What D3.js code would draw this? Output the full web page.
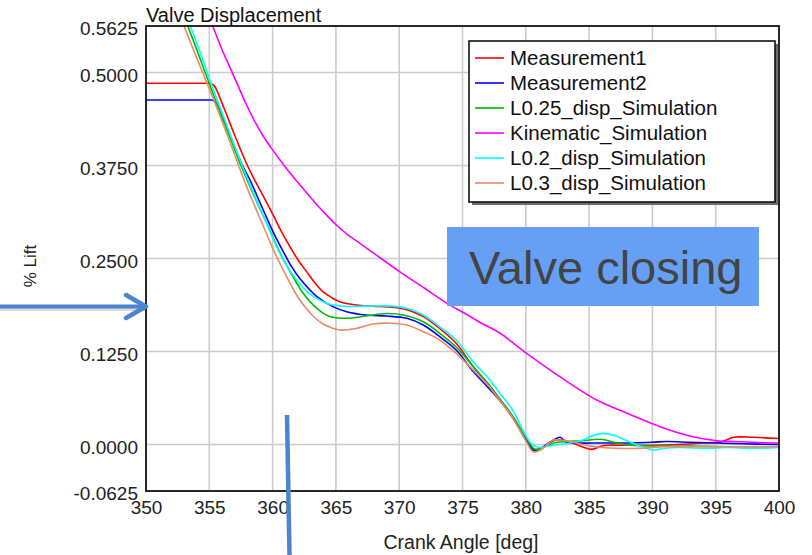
<!DOCTYPE html>
<html>
<head>
<meta charset="utf-8">
<script src="https://cdn.jsdelivr.net/npm/d3@7"></script>
<style>
  html, body { margin: 0; padding: 0; background: #ffffff; }
  svg { display: block; }
  text { font-family: "Liberation Sans", Arial, sans-serif; }
</style>
</head>
<body>
<svg id="chart" width="812" height="555"></svg>
<script>
// ---------- data (crank angle [deg], lift) ----------
const xTicks = [350, 355, 360, 365, 370, 375, 380, 385, 390, 395, 400];
const yTicks = [0.5625, 0.5, 0.375, 0.25, 0.125, 0.0, -0.0625];
const yTickLabels = ["0.5625", "0.5000", "0.3750", "0.2500", "0.1250", "0.0000", "-0.0625"];

const measurement1 = [[350,0.4855],[352,0.4855],[354,0.4855],[354.8,0.4855],[355.1,0.4853],[355.4,0.482],[355.7,0.472],[356.2,0.4505],[357.0,0.416],[357.9,0.379],[358.5,0.358],[359.2,0.336],[360.06,0.308],[360.7,0.286],[361.4,0.265],[362.05,0.247],[362.7,0.232],[363.4,0.216],[364.0,0.205],[364.7,0.197],[365.3,0.192],[366.6,0.1875],[367.95,0.186],[369.5,0.1844],[370.6,0.181],[371.9,0.172],[373.2,0.156],[374.5,0.136],[375.85,0.1046],[377.0,0.082],[378.0,0.06],[379.0,0.037],[380.0,0.008],[380.6,-0.008],[381.2,-0.006],[381.8,0.002],[382.4,0.006],[383.2,0.005],[384.0,0.0],[384.6,-0.004],[385.2,-0.0065],[386.0,-0.002],[386.5,-0.001],[388,-0.001],[390,-0.001],[392,0.0],[394,0.002],[395.5,0.004],[396.4,0.0097],[398,0.0097],[400,0.008]];

const measurement2 = [[350,0.463],[352,0.463],[354,0.463],[355.0,0.463],[355.3,0.4628],[355.6,0.458],[356.0,0.443],[356.8,0.408],[357.6,0.376],[358.2,0.356],[358.7,0.337],[359.5,0.306],[360.2,0.280],[360.85,0.259],[361.5,0.239],[362.2,0.222],[363.5,0.1987],[364.8,0.185],[365.85,0.1785],[367.4,0.174],[369.0,0.1727],[370.6,0.1696],[371.9,0.1606],[373.2,0.145],[374.5,0.127],[375.85,0.098],[377,0.077],[378,0.058],[379,0.035],[380.0,0.007],[380.7,-0.008],[381.3,-0.004],[382.0,0.004],[382.7,0.0097],[383.2,0.003],[384,0.002],[386,0.002],[388,0.002],[390,0.003],[391.1,0.004],[393,0.003],[395,0.002],[397,0.001],[400,0.0]];

const l025Sim = [[353.3,0.5625],[354.2,0.522],[355.0,0.485],[356.0,0.44],[356.7,0.41],[357.4,0.379],[358.0,0.355],[358.5,0.336],[359.0,0.317],[359.6,0.295],[360.3,0.268],[361.0,0.244],[361.6,0.226],[362.3,0.206],[362.95,0.192],[363.7,0.180],[364.5,0.172],[365.85,0.1696],[367.4,0.1727],[369.0,0.176],[370.3,0.174],[371.9,0.165],[373.2,0.1495],[374.5,0.131],[375.85,0.1046],[377,0.082],[378,0.06],[379,0.037],[380,0.01],[380.7,-0.006],[381.4,-0.004],[382.2,0.002],[383.2,0.004],[384.5,0.005],[385.9,0.007],[387,0.003],[388,-0.0007],[390,-0.002],[393,-0.002],[396,-0.003],[400,-0.003]];

const kinematicSim = [[355.27,0.5625],[356.0,0.531],[356.85,0.4985],[357.9,0.458],[358.6,0.434],[359.2,0.416],[360.0,0.396],[361.0,0.373],[362.0,0.352],[363.0,0.332],[364.0,0.313],[365.1,0.294],[366.0,0.281],[366.9,0.2704],[368.2,0.2545],[370.06,0.232],[372.0,0.210],[373.75,0.19],[375.3,0.175],[376.5,0.163],[377.96,0.1495],[380.07,0.1226],[382.7,0.091],[385.6,0.0598],[388.0,0.042],[390.6,0.024],[393.2,0.0105],[395.1,0.0051],[396.4,0.004],[398,0.003],[400,0.0016]];

const l02Sim = [[353.5,0.5625],[354.3,0.526],[355.0,0.492],[356.0,0.446],[356.8,0.41],[357.5,0.379],[358.0,0.358],[358.5,0.338],[359.3,0.306],[360.0,0.278],[360.6,0.256],[361.2,0.238],[361.9,0.221],[362.5,0.209],[363.2,0.199],[364.5,0.1885],[365.85,0.1855],[367.4,0.186],[369.5,0.186],[370.6,0.183],[371.9,0.174],[373.2,0.158],[374.5,0.1405],[375.85,0.111],[377,0.09],[378,0.068],[379,0.045],[379.9,0.015],[380.5,0.0],[381.1,-0.004],[381.8,-0.002],[382.6,0.0],[383.5,0.002],[384.5,0.006],[385.3,0.012],[386.1,0.015],[387,0.012],[388,0.005],[389,-0.002],[390.07,-0.0074],[391,-0.005],[392,-0.004],[394,-0.005],[396,-0.004],[398,-0.005],[400,-0.004]];

const l03Sim = [[353.0,0.5625],[354.0,0.52],[355.0,0.478],[356.0,0.435],[356.6,0.408],[357.1,0.385],[357.6,0.362],[358.1,0.340],[358.7,0.316],[359.4,0.288],[360.06,0.262],[360.7,0.239],[361.4,0.216],[362.0,0.198],[362.7,0.182],[363.3,0.171],[364.0,0.162],[365.3,0.154],[366.6,0.156],[367.95,0.162],[369.3,0.163],[370.6,0.1606],[371.9,0.1516],[373.2,0.1405],[374.5,0.1226],[375.85,0.100],[377,0.08],[378,0.058],[379,0.035],[380,0.005],[380.6,-0.0097],[381.3,-0.006],[381.8,0.002],[382.2,0.006],[382.8,0.006],[383.5,0.004],[384.5,0.0],[385.5,-0.003],[387,-0.005],[389,-0.005],[391,-0.003],[393,-0.003],[396,-0.003],[400,-0.003]];

const seriesNames = ["Measurement1", "Measurement2", "L0.25_disp_Simulation", "Kinematic_Simulation", "L0.2_disp_Simulation", "L0.3_disp_Simulation"];
const seriesColors = ["#ff0000", "#0000ff", "#00bb00", "#ff00ff", "#00ffff", "#ee8866"];
const seriesData = [measurement1, measurement2, l025Sim, kinematicSim, l02Sim, l03Sim];

// ---------- layout ----------
const svg = d3.select("#chart");
const L = 146, R = 779, T = 26, B = 491;

const x = d3.scaleLinear().domain([350, 400]).range([L, R]);
const y = d3.scaleLinear().domain([-0.0625, 0.5625]).range([B, T]);

// grid
const grid = svg.append("g");
grid.selectAll("line.vx").data(xTicks.slice(1, -1)).join("line")
  .attr("x1", d => x(d)).attr("x2", d => x(d)).attr("y1", T).attr("y2", B)
  .attr("stroke", "#cccccc").attr("stroke-width", 1.6);
grid.selectAll("line.hy").data(yTicks.slice(1, -1)).join("line")
  .attr("y1", d => y(d)).attr("y2", d => y(d)).attr("x1", L).attr("x2", R)
  .attr("stroke", "#cccccc").attr("stroke-width", 1.6);

// clip
svg.append("clipPath").attr("id", "plotclip")
  .append("rect").attr("x", L).attr("y", T).attr("width", R - L).attr("height", B - T);

// lines
const line = d3.line().x(d => x(d[0])).y(d => y(d[1])).curve(d3.curveCatmullRom.alpha(0.5));
const lines = svg.append("g").attr("clip-path", "url(#plotclip)");
seriesData.forEach((s, i) => {
  lines.append("path").datum(s).attr("d", line)
    .attr("fill", "none").attr("stroke", seriesColors[i]).attr("stroke-width", 1.6)
    .attr("stroke-linejoin", "round");
});

// axes
const xAxis = svg.append("g").attr("transform", `translate(0,${B})`)
  .call(d3.axisBottom(x).tickValues(xTicks).tickSize(0).tickPadding(10).tickFormat(d3.format("d")));
xAxis.select(".domain").remove();
xAxis.selectAll("text").attr("font-size", 19).attr("fill", "#222").attr("font-family", "Liberation Sans, Arial, sans-serif");

const yAxis = svg.append("g").attr("transform", `translate(${L},0)`)
  .call(d3.axisLeft(y).tickValues(yTicks).tickSize(0).tickPadding(8).tickFormat((d, i) => yTickLabels[i]));
yAxis.select(".domain").remove();
yAxis.selectAll("text").attr("font-size", 19).attr("fill", "#222").attr("dy", "0.45em").attr("font-family", "Liberation Sans, Arial, sans-serif");

// frame
svg.append("rect").attr("x", L).attr("y", T).attr("width", R - L).attr("height", B - T)
  .attr("fill", "none").attr("stroke", "#111").attr("stroke-width", 1.8);

// title & axis labels
svg.append("text").attr("x", L).attr("y", 22).attr("font-size", 20).attr("fill", "#111").text("Valve Displacement");
svg.append("text").attr("x", 461).attr("y", 549).attr("text-anchor", "middle")
  .attr("font-size", 19.5).attr("fill", "#222").text("Crank Angle [deg]");
svg.append("text").attr("transform", "translate(36,266) rotate(-90)").attr("text-anchor", "middle")
  .attr("font-size", 17).attr("fill", "#222").text("% Lift");

// legend
const lg = svg.append("g");
lg.append("rect").attr("x", 472).attr("y", 44).attr("width", 306).attr("height", 161).attr("fill", "#555").attr("opacity", 0.85);
lg.append("rect").attr("x", 469).attr("y", 41).attr("width", 306).attr("height", 161)
  .attr("fill", "#fff").attr("stroke", "#111").attr("stroke-width", 1.6);
seriesNames.forEach((n, i) => {
  const yy = 58 + i * 25;
  lg.append("line").attr("x1", 475).attr("x2", 504).attr("y1", yy).attr("y2", yy)
    .attr("stroke", seriesColors[i]).attr("stroke-width", 1.6);
  lg.append("text").attr("x", 510).attr("y", yy + 7).attr("font-size", 20.5).attr("fill", "#111").text(n);
});

// annotation box
svg.append("rect").attr("x", 447).attr("y", 227).attr("width", 312).attr("height", 79).attr("fill", "#66a0f4");
svg.append("text").attr("x", 469).attr("y", 284).attr("font-size", 47).attr("fill", "#444").text("Valve closing");

// arrow on left
const arrowColor = "#4a84d2";
const ar = svg.append("g");
ar.append("line").attr("x1", 0).attr("x2", 146).attr("y1", 309).attr("y2", 309)
  .attr("stroke", "#000").attr("stroke-opacity", 0.15).attr("stroke-width", 4);
ar.append("line").attr("x1", 0).attr("x2", 145).attr("y1", 306.5).attr("y2", 306.5)
  .attr("stroke", arrowColor).attr("stroke-width", 4);
ar.append("polyline").attr("points", "126,295 146,306.5 126,318").attr("fill", "none")
  .attr("stroke", arrowColor).attr("stroke-width", 4.5).attr("stroke-linecap", "round").attr("stroke-linejoin", "round");

// vertical marker line
svg.append("line").attr("x1", 287).attr("y1", 415).attr("x2", 289.5).attr("y2", 555)
  .attr("stroke", arrowColor).attr("stroke-width", 4.5);
</script>
</body>
</html>
